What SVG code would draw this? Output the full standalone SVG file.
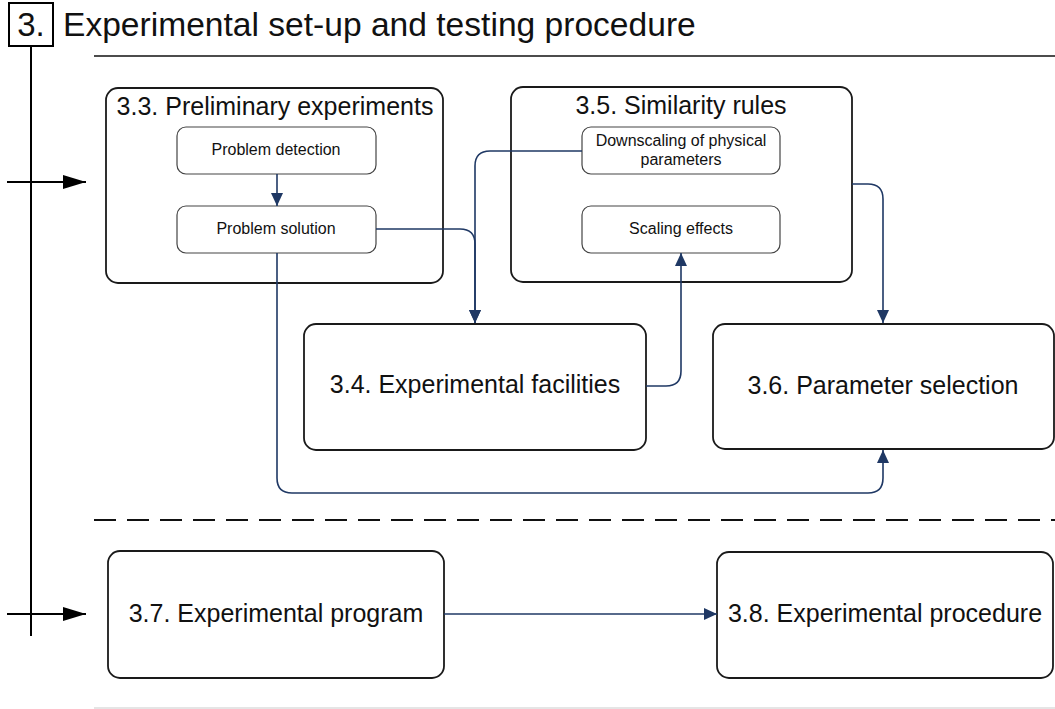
<svg xmlns="http://www.w3.org/2000/svg" width="1055" height="709" viewBox="0 0 1055 709">
<defs>
<style>
text{font-family:"Liberation Sans",Arial,sans-serif;fill:#111;}
.big{fill:#fff;stroke:#1a1a1a;stroke-width:1.8;}
.small{fill:#fff;stroke:#444;stroke-width:1.2;}
.conn{fill:none;stroke:#1F3864;stroke-width:1.6;}
.blk{fill:none;stroke:#000;stroke-width:2;}
.t25{font-size:25px;text-anchor:middle;}
.t16{font-size:16px;text-anchor:middle;}
</style>
<marker id="nav" markerUnits="userSpaceOnUse" markerWidth="14" markerHeight="14" viewBox="0 0 14 14" refX="13" refY="7" orient="auto">
<path d="M0,1 L13,7 L0,13 Z" fill="#1F3864"/>
</marker>
<marker id="blkarr" markerUnits="userSpaceOnUse" markerWidth="24" markerHeight="16" viewBox="0 0 24 16" refX="23" refY="8" orient="auto">
<path d="M0,1 L23,8 L0,15 Z" fill="#000"/>
</marker>
</defs>
<rect width="1055" height="709" fill="#fff"/>

<g id="header">
<rect x="9" y="3" width="44" height="43" fill="#fff" stroke="#000" stroke-width="2"/>
<text x="31" y="36" style="font-size:33px;text-anchor:middle">3.</text>
<text x="63" y="36" style="font-size:33.6px">Experimental set-up and testing procedure</text>
<line x1="94" y1="56" x2="1055" y2="56" stroke="#111" stroke-width="1.6"/>
<line x1="31" y1="46" x2="31" y2="636" class="blk"/>
<line x1="7" y1="182" x2="86" y2="182" class="blk" marker-end="url(#blkarr)"/>
<line x1="7" y1="614" x2="86" y2="614" class="blk" marker-end="url(#blkarr)"/>
<line x1="94" y1="520" x2="1055" y2="520" stroke="#111" stroke-width="1.8" stroke-dasharray="22 11"/>
<line x1="94" y1="708" x2="1055" y2="708" stroke="#ddd" stroke-width="1.5"/>
</g>

<g id="n33">
<rect x="106" y="88" width="337" height="195" rx="12" class="big"/>
<text x="275" y="115" class="t25">3.3. Preliminary experiments</text>
</g>
<g id="n33a">
<rect x="177" y="127" width="199" height="47" rx="9" class="small"/>
<text x="276" y="155" class="t16">Problem detection</text>
</g>
<g id="n33b">
<rect x="177" y="206" width="199" height="47" rx="9" class="small"/>
<text x="276" y="234" class="t16">Problem solution</text>
</g>

<g id="n35">
<rect x="511" y="87" width="341" height="195" rx="12" class="big"/>
<text x="681" y="114" class="t25">3.5. Similarity rules</text>
</g>
<g id="n35a">
<rect x="582" y="127" width="198" height="47" rx="9" class="small"/>
<text x="681" y="146" class="t16">Downscaling of physical</text>
<text x="681" y="165" class="t16">parameters</text>
</g>
<g id="n35b">
<rect x="582" y="206" width="198" height="47" rx="9" class="small"/>
<text x="681" y="234" class="t16">Scaling effects</text>
</g>

<g id="n34">
<rect x="304" y="324" width="342" height="126" rx="12" class="big"/>
<text x="475" y="393" class="t25">3.4. Experimental facilities</text>
</g>
<g id="n36">
<rect x="713" y="324" width="341" height="125" rx="12" class="big"/>
<text x="883" y="394" class="t25">3.6. Parameter selection</text>
</g>
<g id="n37">
<rect x="108" y="551" width="336" height="127" rx="12" class="big"/>
<text x="276" y="622" class="t25">3.7. Experimental program</text>
</g>
<g id="n38">
<rect x="717" y="552" width="336" height="126" rx="12" class="big"/>
<text x="885" y="622" class="t25">3.8. Experimental procedure</text>
</g>

<g id="connectors">
<path d="M277,174 L277,206" class="conn" marker-end="url(#nav)"/>
<path d="M376,229 L460,229 Q475,229 475,244 L475,323" class="conn" marker-end="url(#nav)"/>
<path d="M582,151 L490,151 Q475,151 475,166 L475,323" class="conn" marker-end="url(#nav)"/>
<path d="M646,386 L666,386 Q681,386 681,371 L681,253" class="conn" marker-end="url(#nav)"/>
<path d="M852,184 L868,184 Q883,184 883,199 L883,323" class="conn" marker-end="url(#nav)"/>
<path d="M277,253 L277,478 Q277,493 292,493 L868,493 Q883,493 883,478 L883,450" class="conn" marker-end="url(#nav)"/>
<path d="M444,614 L717,614" class="conn" marker-end="url(#nav)"/>
</g>
</svg>
